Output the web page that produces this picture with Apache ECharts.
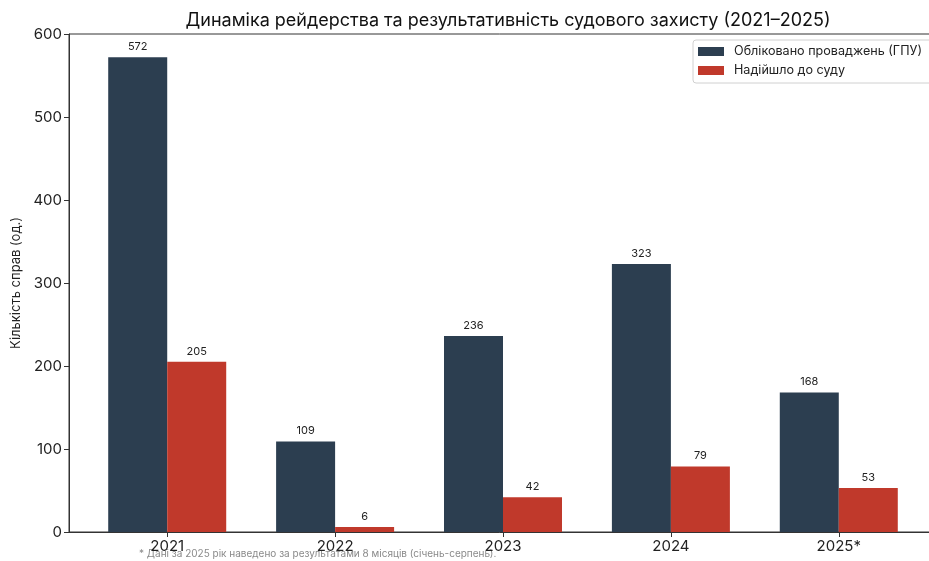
<!DOCTYPE html>
<html><head><meta charset="utf-8">
<script src="https://cdn.jsdelivr.net/npm/echarts@6/dist/echarts.min.js"></script>
<style>html,body{margin:0;padding:0;background:#fff}#c{width:929px;height:561px}</style>
</head><body><div id="c"></div>
<script>
const categories = ['2021', '2022', '2023', '2024', '2025*'];
const registered = [572, 109, 236, 323, 168];
const toCourt = [205, 6, 42, 79, 53];
const yTicks = [0, 100, 200, 300, 400, 500, 600];
const seriesNames = ['Обліковано проваджень (ГПУ)', 'Надійшло до суду'];

const FONT = 'Inter, "Noto Sans", sans-serif';
const chart = echarts.init(document.getElementById('c'), null, {renderer: 'canvas'});
const labelCfg = {show: true, position: 'top', distance: 5, fontSize: 11, color: '#222', fontFamily: FONT};
chart.setOption({
  animation: false,
  textStyle: {fontFamily: FONT},
  title: {
    text: 'Динаміка рейдерства та результативність судового захисту (2021–2025)',
    left: 503, top: 7, textAlign: 'center',
    textStyle: {fontSize: 18, fontWeight: 'normal', color: '#111', fontFamily: FONT}
  },
  legend: {
    left: 693, top: 40, orient: 'vertical', itemWidth: 26, itemHeight: 9, itemGap: 6,
    padding: [5, 12, 6, 5], borderColor: '#d0d0d0', borderWidth: 1, borderRadius: 3,
    icon: 'rect', textStyle: {fontSize: 12.6, color: '#222', fontFamily: FONT, padding: [0, 0, 0, 5]},
    data: seriesNames
  },
  grid: {left: 69, top: 34, width: 868, height: 498, outerBoundsMode: 'none', containLabel: false,
    show: true, borderColor: '#333', borderWidth: 1, backgroundColor: 'transparent'},
  xAxis: {
    type: 'value', min: -0.585, max: 4.585,
    splitLine: {show: false},
    axisLine: {show: true, onZero: false, lineStyle: {color: '#333'}},
    axisTick: {show: true, customValues: [0, 1, 2, 3, 4], length: 5, lineStyle: {color: '#333'}},
    axisLabel: {customValues: [0, 1, 2, 3, 4], formatter: v => categories[Math.round(v)], fontSize: 15, color: '#222', margin: 7, fontFamily: FONT}
  },
  yAxis: {
    type: 'value', min: 0, max: 600, interval: 100,
    name: 'Кількість справ (од.)', nameLocation: 'middle', nameGap: 45,
    nameTextStyle: {fontSize: 13, color: '#222', fontFamily: FONT},
    splitLine: {show: false},
    axisLine: {show: true, onZero: false, lineStyle: {color: '#333'}},
    axisTick: {show: true, length: 5, lineStyle: {color: '#333'}},
    axisLabel: {fontSize: 15, color: '#222', margin: 7, fontFamily: FONT}
  },
  series: [
    {name: seriesNames[0], type: 'bar', barWidth: 59, barGap: '0%', itemStyle: {color: '#2c3e50'},
     data: registered.map((v, i) => [i, v]), label: labelCfg},
    {name: seriesNames[1], type: 'bar', barWidth: 59, barGap: '0%', itemStyle: {color: '#c0392b'},
     data: toCourt.map((v, i) => [i, v]), label: labelCfg}
  ],
  graphic: [{
    type: 'text', left: 139, top: 549,
    style: {text: '* Дані за 2025 рік наведено за результатами 8 місяців (січень-серпень).', fontSize: 10, fill: '#8a8a8a', fontFamily: FONT}
  }]
});
</script></body></html>
